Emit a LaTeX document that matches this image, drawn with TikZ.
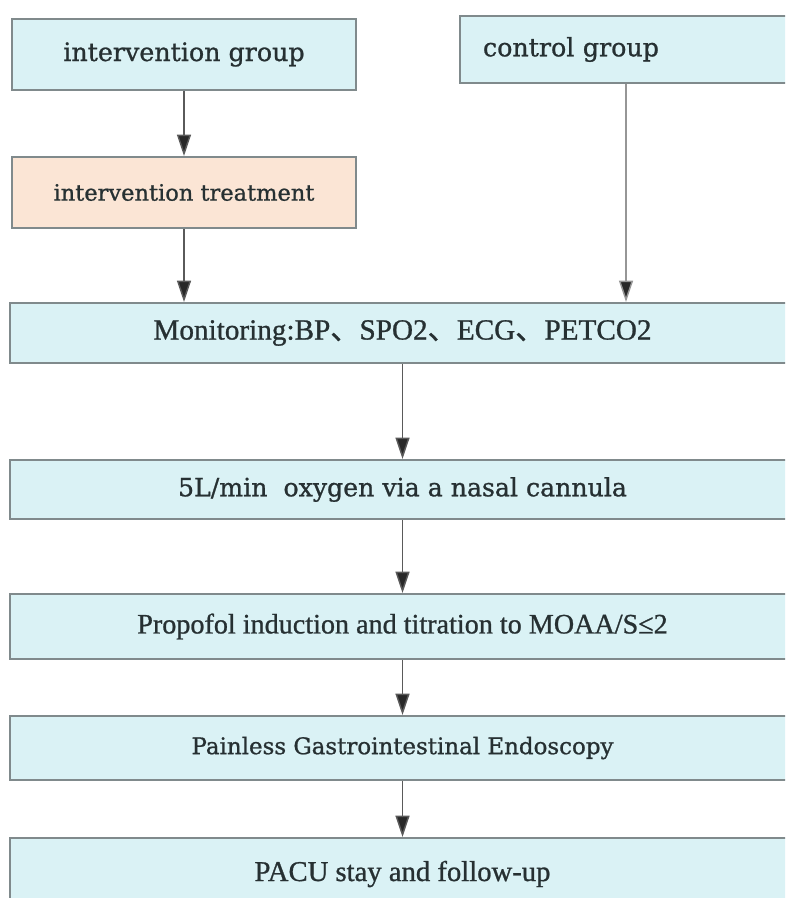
\documentclass[tikz,border=0pt]{standalone}
\usepackage{fontspec}
\setmainfont[FakeBold=0.9]{Liberation Serif}
\newfontfamily\slabfont[FakeBold=0.9]{DejaVu Serif}
\newfontfamily\cjk[FakeBold=0.9]{Noto Sans CJK SC}
\usetikzlibrary{arrows.meta}

\definecolor{boxfill}{RGB}{218,242,245}
\definecolor{peachfill}{RGB}{251,229,213}
\definecolor{boxline}{RGB}{128,138,140}
\definecolor{textcol}{RGB}{38,48,50}
\definecolor{flowline}{RGB}{90,90,90}
\definecolor{lightline}{RGB}{150,150,150}
\definecolor{tipfill}{RGB}{40,40,40}

\begin{document}
\begin{tikzpicture}[x=0.75pt,y=0.75pt,yscale=-1,xscale=1,
    stagebox/.style={draw=boxline, line width=1.5pt, fill=boxfill, text=textcol,
        inner sep=0pt, minimum width=589pt},
    groupbox/.style={draw=boxline, line width=1.5pt, fill=boxfill, text=textcol,
        inner sep=0pt, minimum width=258pt, minimum height=53.25pt,
        font=\slabfont\fontsize{19}{23}\selectfont},
    flow/.style={draw=flowline, line width=1.1pt,
        -{Triangle[length=16pt,width=10.5pt,fill=tipfill]}},
    lightflow/.style={flow, draw=lightline}]
        \useasboundingbox (0,0) rectangle (785,898);
        \clip (0,0) rectangle (785,898);

        % Groups
        \node [groupbox] (ig) at (184,54.5) {intervention group};
        \node [groupbox, anchor=north west, minimum width=249pt, minimum height=50.25pt,
            text width=214.5pt, inner xsep=17.25pt, align=left] (cg) at (459,15) {control group};
        \node [groupbox, fill=peachfill, font=\slabfont\fontsize{16.9}{20}\selectfont]
            (it) at (184,192.5) {intervention treatment};

        % Steps
        \node [stagebox, minimum height=45pt, font=\fontsize{21.9}{25}\selectfont]
            (mon) at (402.5,333) {Monitoring:BP{\cjk 、}SPO2{\cjk 、}ECG{\cjk 、}PETCO2};
        \node [stagebox, minimum height=44.25pt, font=\slabfont\fontsize{18.9}{22}\selectfont]
            (oxy) at (402.5,489.5) {5L/min~ oxygen via a nasal cannula};
        \node [stagebox, minimum height=48.75pt, font=\fontsize{21.1}{25}\selectfont]
            (pro) at (402.5,626.5) {Propofol induction and titration to MOAA/S≤2};
        \node [stagebox, minimum height=48pt, font=\slabfont\fontsize{17.2}{21}\selectfont]
            (pain) at (402.5,748) {Painless Gastrointestinal Endoscopy};
        \node [stagebox, minimum height=54pt, font=\fontsize{21.5}{25}\selectfont]
            (pacu) at (402.5,874) {PACU stay and follow-up};

        % Arrows
        \draw [flow] (ig) -- (it);
        \draw [flow] (it) -- (it |- mon.north);
        \draw [lightflow] (cg) -- (cg |- mon.north);
        \draw [flow] (mon) -- (oxy);
        \draw [flow] (oxy) -- (pro);
        \draw [flow] (pro) -- (pain);
        \draw [flow] (pain) -- (pacu);

    \end{tikzpicture}
\end{document}
